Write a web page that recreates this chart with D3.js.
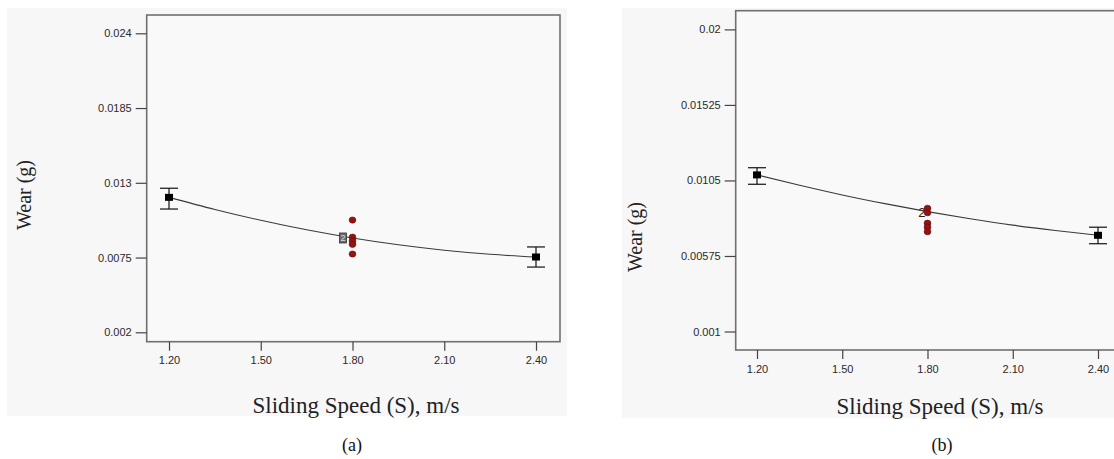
<!DOCTYPE html>
<html>
<head>
<meta charset="utf-8">
<script src="https://cdn.jsdelivr.net/npm/d3@7"></script>
<style>
  html, body { margin: 0; padding: 0; background: #ffffff; }
  svg { display: block; }
  .tick text { font-family: "Liberation Sans", Arial, sans-serif; font-size: 11px; fill: #2a2a2a; }
  .tick line { stroke: #444; stroke-width: 1.2; }
  .serif { font-family: "Liberation Serif", "Times New Roman", serif; fill: #222; }
</style>
</head>
<body>
<svg id="chart" width="1114" height="459"></svg>
<script>
// Sliding speed levels and their axis labels
const speedTicks = [1.2, 1.5, 1.8, 2.1, 2.4];
const speedTickLabels = ["1.20", "1.50", "1.80", "2.10", "2.40"];

// Wear axis ticks of each panel
const wearTicksA = [0.002, 0.0075, 0.013, 0.0185, 0.024];
const wearTickLabelsA = ["0.002", "0.0075", "0.013", "0.0185", "0.024"];
const wearTicksB = [0.001, 0.00575, 0.0105, 0.01525, 0.02];
const wearTickLabelsB = ["0.001", "0.00575", "0.0105", "0.01525", "0.02"];

// Factor-level means with their confidence bars (speeds 1.20 and 2.40)
const endSpeeds = [1.2, 2.4];
const meanA = [0.01193, 0.00754];
const upperA = [0.0126, 0.00828];
const lowerA = [0.01107, 0.0068];
const meanB = [0.01085, 0.00705];
const upperB = [0.0113, 0.00756];
const lowerB = [0.01026, 0.00652];

// Centre-point runs at 1.80 m/s
const centerSpeed = 1.8;
const centerRunsA = [0.01026, 0.0090, 0.00872, 0.00847, 0.00776];
const centerRunsB = [0.00875, 0.00847, 0.00781, 0.00756, 0.00728];

// Fitted model response along sliding speed
const fitSpeeds = [1.2, 1.35, 1.5, 1.65, 1.8, 1.95, 2.1, 2.25, 2.4];
const fitA = [0.01193, 0.01104, 0.01024, 0.00954, 0.00894, 0.00844, 0.00804, 0.00774, 0.00754];
const fitB = [0.01085, 0.0102, 0.00959, 0.00904, 0.00854, 0.00809, 0.00769, 0.00735, 0.00705];
const centerFitA = 0.00894;
const centerFitB = 0.00854;

const svg = d3.select("#chart");

function panel(cfg) {
  const g = svg.append("g");
  // panel backdrop
  g.append("rect")
    .attr("x", cfg.bg[0]).attr("y", cfg.bg[1])
    .attr("width", cfg.bg[2]).attr("height", cfg.bg[3])
    .attr("fill", "#f7f7f7");

  const x = d3.scaleLinear().domain([1.2, 2.4]).range(cfg.xRange);
  const y = d3.scaleLinear().domain(cfg.yDomain).range(cfg.yRange);
  const box = cfg.box; // left, top, right, bottom

  // plot frame
  g.append("rect")
    .attr("x", box[0]).attr("y", box[1])
    .attr("width", box[2] - box[0]).attr("height", box[3] - box[1])
    .attr("fill", "#f9f9f9")
    .attr("stroke", "#707070").attr("stroke-width", 1.6);

  // axes
  const yAxis = d3.axisLeft(y)
    .tickValues(cfg.yTicks)
    .tickFormat((d, i) => cfg.yLabels[i])
    .tickSize(11).tickSizeOuter(0).tickPadding(4);
  const ya = g.append("g").attr("transform", `translate(${box[0]},0)`).call(yAxis);
  ya.select(".domain").remove();

  const xAxis = d3.axisBottom(x)
    .tickValues(speedTicks)
    .tickFormat((d, i) => speedTickLabels[i])
    .tickSize(9).tickSizeOuter(0).tickPadding(6);
  const xa = g.append("g").attr("transform", `translate(0,${box[3]})`).call(xAxis);
  xa.select(".domain").remove();

  // fitted curve
  const line = d3.line().x((d, i) => x(fitSpeeds[i])).y(d => y(d)).curve(d3.curveMonotoneX);
  g.append("path").datum(cfg.fit)
    .attr("d", line)
    .attr("fill", "none").attr("stroke", "#3a3a3a").attr("stroke-width", 1.1);

  // confidence bars
  const bars = g.selectAll(".ebar").data(endSpeeds).enter().append("g");
  bars.append("line")
    .attr("x1", d => x(d)).attr("x2", d => x(d))
    .attr("y1", (d, i) => y(cfg.upper[i])).attr("y2", (d, i) => y(cfg.lower[i]))
    .attr("stroke", "#111").attr("stroke-width", 1.2);
  bars.append("line")
    .attr("x1", d => x(d) - 9).attr("x2", d => x(d) + 9)
    .attr("y1", (d, i) => y(cfg.upper[i])).attr("y2", (d, i) => y(cfg.upper[i]))
    .attr("stroke", "#111").attr("stroke-width", 1.2);
  bars.append("line")
    .attr("x1", d => x(d) - 9).attr("x2", d => x(d) + 9)
    .attr("y1", (d, i) => y(cfg.lower[i])).attr("y2", (d, i) => y(cfg.lower[i]))
    .attr("stroke", "#111").attr("stroke-width", 1.2);
  bars.append("rect")
    .attr("x", d => x(d) - 4).attr("y", (d, i) => y(cfg.mean[i]) - 3.5)
    .attr("width", 8).attr("height", 7)
    .attr("fill", "#000");

  // centre-point replicate label
  if (cfg.centerMark === "box") {
    g.append("rect")
      .attr("x", x(centerSpeed) - 13).attr("y", y(cfg.centerFit) - 5)
      .attr("width", 7).attr("height", 10)
      .attr("fill", "#6a6a6a").attr("stroke", "#333").attr("stroke-width", 0.8);
    g.append("text")
      .attr("x", x(centerSpeed) - 9.5).attr("y", y(cfg.centerFit) + 3.5)
      .attr("text-anchor", "middle")
      .style("font-family", "Liberation Sans, Arial, sans-serif")
      .style("font-size", "9px").style("fill", "#ddd")
      .text("2");
  } else {
    g.append("text")
      .attr("x", x(centerSpeed) - 2).attr("y", y(cfg.centerFit) + 5)
      .attr("text-anchor", "end")
      .style("font-family", "Liberation Sans, Arial, sans-serif")
      .style("font-size", "13px").style("fill", "#222")
      .text("2");
  }

  // centre-point runs
  g.selectAll(".run").data(cfg.runs).enter().append("ellipse")
    .attr("cx", x(centerSpeed)).attr("cy", d => y(d))
    .attr("rx", 3.4).attr("ry", 3.1)
    .attr("fill", "#931414").attr("stroke", "#6a0808").attr("stroke-width", 0.6);

  // axis titles and panel caption
  g.append("text").attr("class", "serif")
    .attr("x", cfg.xTitle[0]).attr("y", cfg.xTitle[1])
    .attr("text-anchor", "middle").style("font-size", "23px")
    .text("Sliding Speed (S), m/s");
  g.append("text").attr("class", "serif")
    .attr("transform", `translate(${cfg.yTitle[0]},${cfg.yTitle[1]}) rotate(-90)`)
    .attr("text-anchor", "middle").style("font-size", "20px")
    .text("Wear (g)");
  g.append("text").attr("class", "serif")
    .attr("x", cfg.caption[0]).attr("y", cfg.caption[1])
    .attr("text-anchor", "middle").style("font-size", "18px").style("fill", "#111")
    .text(cfg.captionText);
}

panel({
  bg: [7, 8, 560, 408],
  box: [146.7, 15, 560, 341.7],
  xRange: [169, 536],
  yDomain: [0.002, 0.024],
  yRange: [332.3, 33.3],
  yTicks: wearTicksA, yLabels: wearTickLabelsA,
  fit: fitA, mean: meanA, upper: upperA, lower: lowerA,
  runs: centerRunsA, centerFit: centerFitA, centerMark: "box",
  xTitle: [356, 413], yTitle: [31, 195],
  caption: [352, 451], captionText: "(a)"
});

panel({
  bg: [622, 8, 492, 410],
  box: [735.7, 10.7, 1121, 350],
  xRange: [757, 1098],
  yDomain: [0.001, 0.02],
  yRange: [331.5, 29.4],
  yTicks: wearTicksB, yLabels: wearTickLabelsB,
  fit: fitB, mean: meanB, upper: upperB, lower: lowerB,
  runs: centerRunsB, centerFit: centerFitB, centerMark: "text",
  xTitle: [940, 414], yTitle: [642, 237],
  caption: [942, 451], captionText: "(b)"
});
</script>
</body>
</html>
